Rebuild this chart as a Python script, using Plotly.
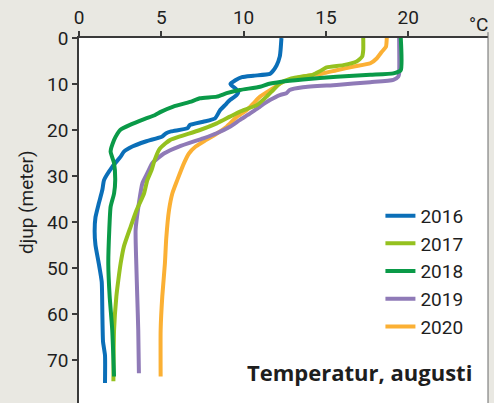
import plotly.graph_objects as go

years = ["2016", "2017", "2018", "2019", "2020"]
colors = ["#0b6fb8", "#95c11f", "#0a9a48", "#8f7ab7", "#fbb034"]

depth_2016 = [0, 2.5, 4, 6, 7.3, 7.8, 8.2, 8.5, 9.2, 10.0, 10.9, 11.7, 12.4, 13.5, 14.6, 15.7,
              17.5, 18.2, 18.9, 19.6, 20.3, 20.7, 21.4, 22.5, 23.6, 24.7, 25.8, 28.0, 30.9,
              33, 36, 39, 42, 45, 49, 53, 60, 66, 69, 75]
temp_2016 = [12.3, 12.25, 12.2, 12.0, 11.75, 11.6, 10.6, 9.9, 9.5, 9.2, 9.48, 9.68, 9.58, 9.17,
             8.87, 8.57, 8.26, 7.55, 6.74, 6.6, 5.6, 5.3, 5.06, 4.05, 3.24, 2.73, 2.53, 2.02,
             1.52, 1.42, 1.2, 1.0, 0.95, 1.0, 1.2, 1.38, 1.42, 1.46, 1.58, 1.58]

depth_2017 = [0, 2.6, 4.05, 5.1, 5.9, 6.4, 7.3, 8.0, 8.8, 9.9, 11.3, 12.75, 14.6, 16.0, 17.1,
              18.55, 20.0, 21.4, 22.2, 22.9, 24.3, 26.5, 28.7, 30.9, 33.8, 37.4, 41.0, 45.3,
              49, 52.6, 56.2, 63.5, 74.6]
temp_2017 = [17.27, 17.27, 17.2, 16.87, 16.06, 15.05, 14.6, 14.2, 12.9, 12.2, 11.8, 11.4, 10.8,
             9.78, 9.17, 8.37, 7.35, 6.14, 5.53, 5.26, 4.86, 4.6, 4.41, 4.15, 3.95, 3.5, 3.14,
             2.73, 2.53, 2.39, 2.27, 2.13, 2.09]

depth_2018 = [0, 7.0, 7.7, 8.0, 8.4, 9.0, 9.5, 10.0, 10.6, 11.3, 12.0, 12.75, 13.1, 13.9, 14.9,
              16.0, 16.8, 17.6, 18.9, 20.0, 20.7, 22.2, 24.7, 27.2, 30.9, 33.8, 36.7, 41.7, 49,
              56, 63.5, 73.6]
temp_2018 = [19.55, 19.55, 19.1, 17.7, 15.65, 13.6, 12.3, 11.5, 11.0, 9.78, 8.97, 8.37, 7.35,
             6.74, 5.73, 5.0, 4.6, 4.0, 3.1, 2.5, 2.35, 2.13, 1.92, 2.13, 2.2, 2.13, 1.92, 1.84,
             1.78, 1.86, 2.02, 2.13]

depth_2019 = [0, 7.7, 8.4, 9.1, 9.6, 10.2, 10.7, 11.3, 12.0, 12.4, 13.5, 14.9, 16.4, 17.8, 19.3,
              20.7, 21.8, 23.6, 25.1, 27.2, 29.4, 31.6, 35.9, 41.7, 49, 56.2, 63.5, 72.9]
temp_2019 = [19.45, 19.45, 19.4, 19.1, 17.7, 15.65, 13.6, 12.8, 12.6, 12.2, 11.6, 11.0, 10.4,
             9.78, 9.17, 8.37, 7.55, 6.07, 5.16, 4.45, 4.15, 3.85, 3.64, 3.44, 3.48, 3.54, 3.6,
             3.64]

depth_2020 = [0, 1.9, 3.0, 4.4, 5.5, 6.2, 7.0, 7.7, 8.4, 9.5, 10.9, 12.75, 14.2, 15.65, 17.1,
              19.3, 20.7, 22.2, 23.6, 25.1, 27.2, 30.9, 33.8, 37.4, 43.6, 49, 56.2, 63.5, 73.6]
temp_2020 = [18.7, 18.65, 18.4, 18.1, 17.7, 16.7, 15.65, 14.8, 13.6, 12.4, 11.8, 11.0, 10.6,
             10.2, 9.6, 8.97, 8.4, 7.7, 7.09, 6.68, 6.38, 5.97, 5.67, 5.47, 5.3, 5.22, 5.06,
             4.96, 4.96]

x_ticks = [0, 5, 10, 15, 20]
y_ticks = [0, 10, 20, 30, 40, 50, 60, 70]

series = {
    "2016": (temp_2016, depth_2016),
    "2017": (temp_2017, depth_2017),
    "2018": (temp_2018, depth_2018),
    "2019": (temp_2019, depth_2019),
    "2020": (temp_2020, depth_2020),
}

draw_order = ["2020", "2019", "2017", "2016", "2018"]
FONT = "Roboto"

fig = go.Figure()
for yr in draw_order:
    i = years.index(yr)
    t, d = series[yr]
    fig.add_trace(go.Scatter(
        x=t, y=d, mode="lines", name=yr,
        line=dict(color=colors[i], width=4, shape="spline", smoothing=0.5),
        legendrank=i + 1,
    ))

fig.update_layout(
    width=494, height=403,
    margin=dict(l=79, r=6, t=38, b=0, autoexpand=False),
    paper_bgcolor="#e9e8e2",
    plot_bgcolor="#ffffff",
    font=dict(family=FONT, size=19, color="#1e1e1e"),
    showlegend=True,
    legend=dict(
        x=0.737, xanchor="left", y=0.565, yanchor="top",
        bgcolor="rgba(0,0,0,0)", font=dict(size=19, color="#1e1e1e"),
        traceorder="normal", itemwidth=30, tracegroupgap=0,
    ),
    xaxis=dict(
        side="top", range=[0, 24.85], tickvals=x_ticks, showgrid=False, zeroline=False,
        showline=True, linecolor="#3a3a3a", linewidth=1.5, automargin=False,
        ticks="outside", ticklen=5, tickcolor="#3a3a3a", tickwidth=1.5,
        tickfont=dict(size=19),
    ),
    yaxis=dict(
        range=[79.35, 0], tickvals=y_ticks, showgrid=False, zeroline=False,
        showline=True, linecolor="#3a3a3a", linewidth=1.5, automargin=False,
        ticks="outside", ticklen=5, tickcolor="#3a3a3a", tickwidth=1.5,
        tickfont=dict(size=19),
    ),
    shapes=[dict(type="line", xref="paper", yref="paper", x0=1, x1=1, y0=0, y1=1.016,
                 line=dict(color="#6a6a6a", width=1))],
    annotations=[
        dict(text="°C", xref="paper", yref="paper", x=1.005, y=1.037, xanchor="right",
             yanchor="middle", showarrow=False, font=dict(size=19)),
        dict(text="djup (meter)", xref="paper", yref="paper", x=-0.13, y=0.55,
             xanchor="center", yanchor="middle", textangle=-90, showarrow=False,
             font=dict(size=19)),
        dict(text="<b>Temperatur, augusti</b>", xref="paper", yref="paper", x=0.966,
             y=0.085, xanchor="right", yanchor="middle", showarrow=False,
             font=dict(size=22, family="Open Sans")),
    ],
)

fig.write_html(
    "out.html",
    config={"displayModeBar": False},
    post_script="document.body.style.margin='0px';document.body.style.overflow='hidden';",
)
